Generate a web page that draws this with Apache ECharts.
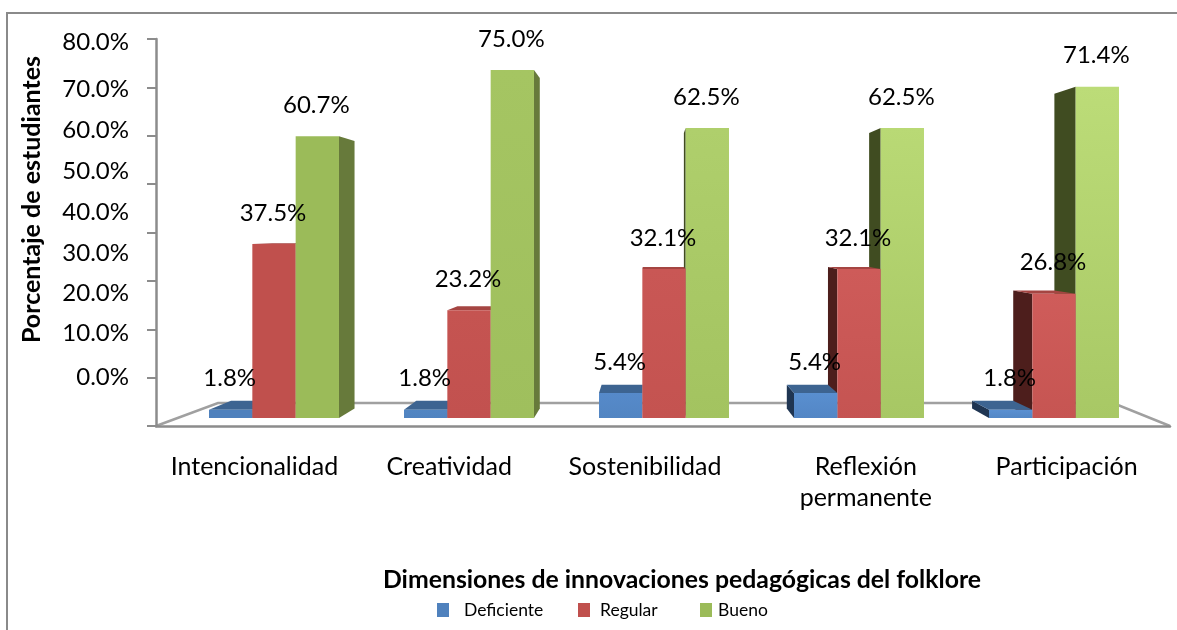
<!DOCTYPE html>
<html>
<head>
<meta charset="utf-8">
<script src="https://cdn.jsdelivr.net/npm/echarts@6/dist/echarts.min.js"></script>
<style>
  html, body { margin: 0; padding: 0; background: #fff; }
  #chart { width: 1177px; height: 630px; }
</style>
</head>
<body>
<div id="chart"></div>
<script>
const categories = ["Intencionalidad", "Creatividad", "Sostenibilidad", "Reflexión\npermanente", "Participación"];
const deficiente = [1.8, 1.8, 5.4, 5.4, 1.8];
const regular = [37.5, 23.2, 32.1, 32.1, 26.8];
const bueno = [60.7, 75.0, 62.5, 62.5, 71.4];
const tickValues = [0, 10, 20, 30, 40, 50, 60, 70, 80];
const tickLabels = ["0.0%", "10.0%", "20.0%", "30.0%", "40.0%", "50.0%", "60.0%", "70.0%", "80.0%"];

// in the picture the y labels drift away from their ticks, so they sit at their own spots on the scale
const labelSpots = [10.1, 19.2, 27.5, 35.8, 44.2, 52.7, 61.2, 69.7, 79.4];
// labels under the axis are not quite centred on their bands (px moved left)
const labelShift = [3, 11, 18, 0, 2];

const FONT = "Lato";
const AXIS_GRAY = "#8c8c8c";

// perspective of the bars: back face is the front scaled towards this point
const VP = [650, 230];
const DEPTH = 0.95;
// front colours get brighter from left to right
const lift = [0, 0.3, 0.6, 0.9, 1];

const faces = [
  { base: "#4f81bd", light: "#5a90d2", top: "#3d6491", right: "#34557c", left: "#1f3552" },
  { base: "#c0504d", light: "#cf5c5a", top: "#a54542", right: "#7e3431", left: "#4d1e1c" },
  { base: "#9bbb59", light: "#bcdc78", top: "#8ca551", right: "#677a3b", left: "#404c21" },
];

function back(p) {
  return [VP[0] + (p[0] - VP[0]) * DEPTH, VP[1] + (p[1] - VP[1]) * DEPTH];
}

function renderBar(params, api) {
  const s = params.seriesIndex;
  const cat = api.value(0);
  const val = api.value(1);
  const top = api.coord([cat, val]);
  const bottom = api.coord([cat, 0]);
  const w = api.size([1, 0])[0] * 0.2222;
  const x0 = top[0] + (s - 1.5) * w;
  const x1 = x0 + w;
  const y0 = top[1];
  const y1 = bottom[1];
  const f = faces[s];
  const dist = Math.abs((x0 + x1) / 2 - VP[0]);
  const z = Math.round(2000 - dist) * 10;
  const children = [];

  function poly(points, fill, zAdd) {
    children.push({ type: "polygon", z2: z + zAdd, shape: { points: points }, style: { fill: fill } });
  }
  if (x1 < VP[0]) {
    poly([[x1, y0], back([x1, y0]), back([x1, y1]), [x1, y1]], f.right, 0);
  }
  if (x0 > VP[0]) {
    poly([[x0, y0], back([x0, y0]), back([x0, y1]), [x0, y1]], f.left, 0);
  }
  if (y0 > VP[1]) {
    poly([[x0, y0], back([x0, y0]), back([x1, y0]), [x1, y0]], f.top, 1);
  }
  const lightTop = echarts.color.lerp(lift[cat], [f.base, f.light]);
  const lightBottom = echarts.color.lerp(lift[cat] * 0.4, [f.base, f.light]);
  children.push({
    type: "rect",
    z2: z + 2,
    shape: { x: x0, y: y0, width: w, height: y1 - y0 },
    style: {
      fill: new echarts.graphic.LinearGradient(0, 0, 0, 1, [
        { offset: 0, color: lightTop },
        { offset: 1, color: lightBottom },
      ]),
    },
  });
  children.push({
    type: "text",
    z2: 999999,
    style: {
      text: val.toFixed(1) + "%",
      x: (x0 + x1) / 2 - 1,
      y: y0 - 31,
      align: "center",
      verticalAlign: "middle",
      fontFamily: FONT,
      fontSize: 24,
      fill: "#000",
    },
  });
  return { type: "group", children: children };
}

function barSeries(name, values, color) {
  return {
    name: name,
    type: "custom",
    xAxisIndex: 1,
    yAxisIndex: 1,
    itemStyle: { color: color },
    encode: { x: 0, y: 1 },
    data: values.map((v, i) => [i, v]),
    renderItem: renderBar,
    animation: false,
  };
}

function legendItem(name, left, textGap) {
  return {
    data: [name],
    left: left,
    top: 601,
    padding: 0,
    itemWidth: 12,
    itemHeight: 14,
    itemGap: 0,
    icon: "rect",
    selectedMode: false,
    textStyle: { fontFamily: FONT, fontSize: 17.5, color: "#000", padding: [0, 0, 0, textGap] },
  };
}

const shiftRich = {};
labelShift.forEach((d, i) => {
  shiftRich["s" + i] = {
    fontFamily: FONT,
    fontSize: 25,
    color: "#000",
    lineHeight: 31,
    padding: [0, d * 2, 0, 0],
  };
});

const chart = echarts.init(document.getElementById("chart"));
chart.setOption({
  animation: false,
  backgroundColor: "#fff",
  graphic: [
    // outer frame, only the top and left sides are in the picture
    {
      type: "polyline",
      shape: { points: [[7, 630], [7, 13], [1177, 13]] },
      style: { stroke: "#8a8a8a", lineWidth: 2, fill: null },
    },
    // floor of the 3d box
    {
      type: "polyline",
      shape: { points: [[156, 426], [218, 403], [1113, 403], [1170, 426]] },
      style: { stroke: "#a0a0a0", lineWidth: 2.5, fill: null },
    },
  ],
  legend: [
    legendItem("Deficiente", 437, 10),
    legendItem("Regular", 578, 5),
    legendItem("Bueno", 700, 1),
  ],
  grid: [
    { left: 156, top: 39, width: 1014, height: 387 },
    // front plane of the bars
    { left: 176.5, top: 46.8, width: 975, height: 371.2 },
  ],
  xAxis: [
    {
      type: "category",
      gridIndex: 0,
      data: categories,
      name: "Dimensiones de innovaciones pedagógicas del folklore",
      nameLocation: "middle",
      nameGap: 142,
      nameTextStyle: { fontFamily: FONT, fontSize: 24.8, fontWeight: "bold", color: "#000", padding: [0, 0, 0, 38] },
      axisLine: { lineStyle: { color: AXIS_GRAY, width: 2.5 } },
      axisTick: { length: 10, lineStyle: { color: AXIS_GRAY, width: 2 } },
      axisLabel: {
        margin: 25,
        interval: 0,
        formatter: (value, i) => value.split("\n").map((line) => "{s" + i + "|" + line + "}").join("\n"),
        rich: shiftRich,
      },
    },
    { type: "category", gridIndex: 1, data: categories, show: false },
  ],
  yAxis: [
    {
      type: "value",
      gridIndex: 0,
      min: 0,
      max: 80,
      interval: 10,
      name: "Porcentaje de estudiantes",
      nameLocation: "middle",
      nameGap: 112,
      nameTextStyle: { fontFamily: FONT, fontSize: 25, fontWeight: "bold", color: "#000", padding: [0, 0, 0, 66] },
      splitLine: { show: false },
      axisLine: { show: true, lineStyle: { color: AXIS_GRAY, width: 2.5 } },
      axisTick: { show: true, length: 9, lineStyle: { color: AXIS_GRAY, width: 2 }, customValues: tickValues },
      axisLabel: {
        margin: 27,
        fontFamily: FONT,
        fontSize: 24,
        color: "#000",
        customValues: labelSpots,
        formatter: (value) => tickLabels[labelSpots.indexOf(value)],
      },
    },
    { type: "value", gridIndex: 1, min: 0, max: 80, show: false, splitLine: { show: false } },
  ],
  series: [
    barSeries("Deficiente", deficiente, faces[0].base),
    barSeries("Regular", regular, faces[1].base),
    barSeries("Bueno", bueno, faces[2].base),
  ],
});
</script>
</body>
</html>
